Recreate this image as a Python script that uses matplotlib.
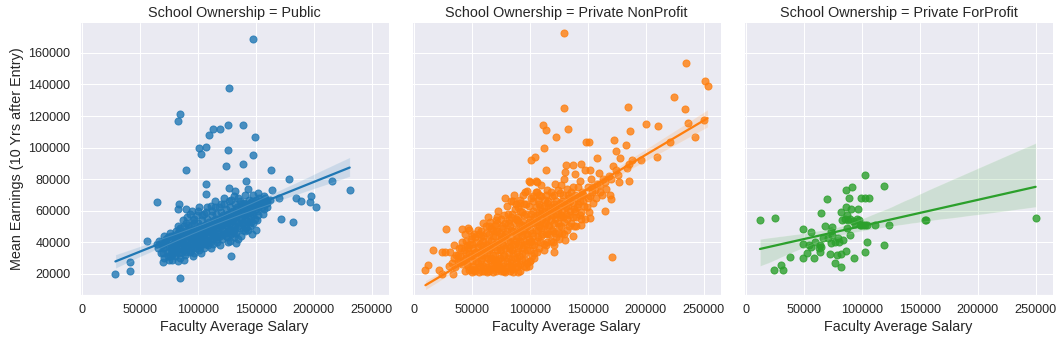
import numpy as np
import pandas as pd
import matplotlib
matplotlib.use("Agg")
import matplotlib.pyplot as plt
import seaborn as sns

## values, in thousands of dollars: (faculty salary, mean earnings)
public_pts = [
    (148, 169), (127, 138), (84.6, 121), (83, 117), (126, 114.5), (139, 114),
    (113, 111.5), (119, 111.5), (110, 108), (149, 107), (101, 100), (107, 100.5),
    (103, 96), (126, 98.5), (148, 95.5), (139, 89.5), (124, 88), (90, 86),
    (163, 86), (179, 80), (216, 79), (231, 73), (142, 79), (107, 77),
    (65, 65.5), (84, 64.5), (83, 61), (185, 68), (189, 66), (197, 65.5),
    (198, 69.5), (202, 62.5), (172, 55), (182, 53), (56, 40.5), (65, 39),
    (29, 20), (42, 27.5), (42, 22), (84.5, 17.5), (129, 31.5), (133, 39.5),
    (107, 70.5), (127, 74.5), (132, 72.5), (164, 73), (170, 68), (160, 65),
    (152, 71), (148, 70), (143, 74), (70, 27.4),
    (68, 33), (69, 38), (67, 41), (71, 30), (70, 36), (72, 40), (71, 44), (74, 34),
    (75, 38), (74, 43), (76, 31), (77, 35), (76, 46), (78, 29), (79, 33), (78, 37),
    (80, 40), (79, 44), (81, 47), (80, 31), (82, 35), (81, 38), (83, 41), (82, 45),
    (84, 48), (83, 50), (85, 30), (84, 33), (86, 37), (85, 40), (87, 43), (86, 46),
    (88, 50), (87, 54), (89, 32), (88, 35), (90, 38), (89, 41), (91, 44), (90, 47),
    (92, 51), (91, 56), (90, 61), (93, 34), (92, 37), (94, 40), (93, 43), (95, 46),
    (94, 50), (96, 54), (95, 60), (97, 33), (96, 36), (98, 39), (97, 42), (99, 45),
    (98, 48), (100, 52), (99, 57), (101, 35), (100, 38), (102, 41), (101, 44), (103, 47),
    (102, 50), (104, 54), (101, 62), (105, 36), (104, 39), (106, 42), (105, 45), (107, 48),
    (106, 51), (108, 55), (107, 59), (109, 38), (108, 41), (110, 44), (109, 47), (111, 50),
    (110, 53), (112, 57), (111, 63), (113, 39), (112, 42), (114, 45), (113, 48), (115, 51),
    (114, 54), (116, 58), (115, 62), (117, 40), (116, 43), (118, 46), (117, 49), (119, 52),
    (118, 55), (120, 59), (121, 42), (120, 45), (122, 48), (121, 51), (123, 54), (122, 57),
    (124, 61), (123, 68), (125, 43), (124, 46), (126, 49), (125, 52), (127, 55), (126, 58),
    (128, 62), (127, 66), (129, 45), (128, 48), (130, 51), (129, 54), (131, 57), (130, 60),
    (132, 64), (131, 69), (133, 46), (132, 50), (134, 53), (133, 56), (135, 59), (134, 62),
    (136, 66), (137, 44), (136, 49), (138, 52), (137, 55), (139, 58), (138, 61), (140, 65),
    (141, 47), (140, 51), (142, 54), (141, 57), (143, 60), (142, 63), (144, 67), (145, 50),
    (144, 53), (146, 56), (145, 59), (147, 62), (148, 52), (149, 55), (148, 58), (150, 61),
    (149, 65), (151, 54), (152, 57), (151, 60), (153, 63), (154, 66), (156, 58), (157, 61),
    (158, 64), (160, 62), (162, 67), (157, 69), (147, 45), (143, 48), (135, 42), (128, 41),
    (119, 38), (111, 36), (103, 33), (96, 31), (88, 29), (83, 28), (120, 64), (115, 66),
    (108, 62), (100, 60), (93, 58), (105, 58), (126, 40), (131, 43), (142, 49), (150, 48),
    (66, 36), (68, 40), (70, 33), (72, 37), (73, 42), (75, 29), (76, 40), (77, 44),
    (78, 32), (79, 39), (80, 43), (81, 34), (82, 39), (83, 44), (84, 36), (85, 46),
    (86, 42), (87, 35), (88, 39), (89, 46), (90, 34), (91, 40), (92, 44), (93, 48),
    (94, 37), (95, 42), (96, 48), (97, 52), (98, 44), (99, 36), (100, 43), (101, 49),
    (102, 46), (103, 39), (104, 44), (105, 50), (106, 47), (107, 39), (108, 45), (109, 51),
    (110, 47), (111, 41), (112, 46), (113, 53), (114, 50), (115, 43), (116, 49), (117, 55),
    (118, 51), (119, 44), (120, 50), (121, 56), (122, 52), (123, 46), (124, 51), (125, 57),
    (126, 53), (127, 47), (128, 52), (129, 59), (130, 55), (131, 48), (132, 54), (133, 61),
    (134, 58), (135, 50), (136, 56), (137, 63), (138, 59), (139, 52), (140, 57), (141, 64),
    (142, 60), (143, 55), (144, 61), (145, 65), (146, 59), (147, 66), (148, 63), (150, 67),
    (152, 62), (153, 68), (155, 62), (156, 66), (158, 68), (160, 66), (146, 53), (139, 48),
    (131, 46), (124, 44), (117, 42), (109, 40), (102, 37), (94, 35), (86, 34), (78, 35),
    (74, 31), (118, 62), (112, 60), (104, 57), (97, 55), (90, 52), (85, 49), (123, 64),
    (129, 67), (135, 68), (141, 70), (152, 65), (138, 64), (96, 40), (103, 42), (110, 48),
    (124, 56), (132, 58),
]

nonprofit_pts = [
    (129.9, 172.6), (235, 153.8), (251.4, 141.9), (253.4, 139.1), (224.1, 132.1),
    (184.8, 125.7), (129.9, 125.1), (233.6, 124.7), (236.2, 115.5), (250, 117.2),
    (200, 114.9), (210.6, 113.6), (111.2, 114.3), (114.4, 111.3), (132.8, 111.9),
    (186.8, 110.4), (122.4, 106.6), (242.2, 106.8), (220.7, 103.6), (148.9, 103.6),
    (151.1, 103.6), (172.4, 104.7), (182.8, 101.7), (112.1, 99.6), (174.7, 98.1),
    (177.6, 93.4), (158, 93.4), (209.8, 93.8), (196.3, 91.9), (188.2, 91.9),
    (104.3, 94), (101.4, 92.3), (185.6, 89.8), (183.9, 87), (131, 88.7),
    (137.4, 88.7), (144.5, 89.8), (114.4, 85.5), (130.5, 84.5), (152.3, 85.5),
    (174.7, 85.5), (175.9, 82.8), (185.6, 78.5), (177.3, 77.9), (169.5, 70),
    (170.1, 67.2), (164.7, 60), (153.7, 74.7), (161, 72.1), (145.4, 70.6),
    (171.3, 30.6), (100.6, 28.1), (27.9, 48.1), (16.4, 34.9), (24.1, 34),
    (10.1, 22.6), (12.4, 25.3), (21.6, 22.1), (24.4, 20), (33.6, 19.8),
    (105.7, 78.5), (99.1, 78.5), (78.4, 67.9), (86.2, 70), (97.7, 72.6), (106.3, 72.1),
    (120.7, 38.1), (120.7, 33.8), (130.2, 41.5), (137.1, 43.8), (144.5, 50.9),
    (151.7, 55.1), (143.7, 57.2), (41.7, 48.1), (46.8, 49.1), (34.5, 38.1),
    (27.3, 34), (31.6, 33.8), (36.8, 31.7), (40.2, 27.4), (47.4, 22.1),
    (50.3, 22.1), (51.7, 22.1),
    (36, 24), (38, 28), (40, 31), (42, 26), (43, 35), (44, 22), (45, 30), (46, 38),
    (47, 25), (48, 33), (49, 42), (50, 28), (50, 21), (51, 36), (52, 45), (52, 23),
    (53, 31), (54, 40), (55, 27), (55, 48), (56, 21), (57, 34), (58, 43), (58, 24),
    (59, 30), (60, 38), (60, 52), (61, 22), (62, 27), (62, 46), (63, 33), (64, 41),
    (64, 56), (65, 23), (66, 29), (66, 36), (67, 49), (68, 44), (68, 21), (69, 26),
    (70, 32), (70, 39), (71, 54), (72, 23), (72, 47), (73, 29), (73, 60), (74, 35),
    (75, 42), (75, 22), (76, 50), (77, 27), (77, 38), (78, 57), (78, 32), (79, 45),
    (80, 24), (80, 63), (81, 30), (81, 52), (82, 36), (83, 41), (83, 22), (84, 48),
    (85, 27), (85, 58), (86, 33), (86, 66), (87, 39), (88, 44), (88, 24), (89, 54),
    (89, 30), (90, 36), (90, 62), (91, 47), (92, 26), (92, 41), (93, 51), (93, 33),
    (94, 70), (95, 38), (95, 57), (96, 29), (96, 45), (97, 64), (98, 35), (98, 50),
    (99, 42), (100, 55), (100, 28), (101, 68), (102, 38), (102, 46), (103, 60), (104, 33),
    (104, 52), (105, 72), (106, 41), (106, 57), (107, 48), (108, 36), (108, 64), (109, 53),
    (110, 44), (110, 76), (111, 60), (112, 39), (112, 50), (113, 67), (114, 55), (115, 45),
    (115, 73), (116, 62), (117, 51), (118, 41), (118, 58), (119, 69), (120, 47), (121, 64),
    (122, 55), (122, 77), (123, 43), (124, 60), (125, 50), (126, 71), (127, 57), (128, 46),
    (128, 66), (130, 53), (130, 80), (131, 62), (132, 48), (133, 70), (134, 57), (135, 66),
    (136, 52), (137, 75), (138, 61), (139, 83), (140, 56), (141, 68), (142, 64), (143, 79),
    (144, 59), (145, 72), (146, 66), (148, 86), (149, 62), (150, 75), (152, 69), (153, 80),
    (155, 65), (156, 73), (158, 77), (160, 84), (162, 70), (165, 78), (168, 82), (172, 88),
    (148, 55), (138, 50), (125, 42), (114, 38), (104, 30), (97, 24), (90, 21), (62, 36),
    (58, 32), (54, 34), (70, 28), (76, 44), (82, 54), (95, 48), (100, 40), (110, 58),
    (115, 65), (60, 44), (65, 50), (72, 56), (67, 30), (74, 24), (86, 21), (79, 21),
    (63, 21), (92, 60), (88, 64), (84, 66), (103, 69), (108, 70), (96, 72), (106, 78),
    (100, 78), (92, 67), (70, 51), (58, 47), (50, 44), (44, 45), (48, 48),
    (38, 32), (41, 36), (43, 29), (45, 41), (46, 26), (47, 36), (49, 31), (50, 39),
    (51, 25), (52, 33), (53, 43), (54, 28), (55, 37), (56, 45), (57, 25), (57, 39),
    (58, 29), (59, 35), (60, 41), (60, 25), (61, 32), (62, 50), (63, 38), (63, 24),
    (64, 30), (65, 45), (65, 35), (66, 53), (67, 25), (67, 41), (68, 32), (68, 48),
    (69, 37), (70, 44), (70, 24), (71, 29), (71, 47), (72, 35), (72, 52), (73, 40),
    (73, 25), (74, 46), (74, 30), (75, 55), (75, 35), (76, 39), (76, 25), (77, 49),
    (77, 31), (78, 43), (78, 22), (79, 36), (79, 52), (80, 28), (80, 47), (81, 41),
    (81, 58), (82, 25), (82, 33), (83, 50), (83, 37), (84, 29), (84, 43), (84, 56),
    (85, 35), (85, 23), (86, 47), (86, 39), (87, 30), (87, 52), (87, 61), (88, 27),
    (88, 41), (88, 55), (89, 34), (89, 48), (90, 43), (90, 25), (90, 56), (91, 31),
    (91, 38), (91, 52), (92, 47), (92, 65), (93, 29), (93, 44), (93, 59), (94, 36),
    (94, 53), (95, 25), (95, 41), (95, 64), (96, 50), (96, 33), (97, 58), (97, 39),
    (98, 45), (98, 27), (99, 53), (99, 63), (100, 35), (100, 48), (101, 41), (101, 58),
    (102, 31), (102, 52), (103, 44), (103, 66), (104, 38), (104, 56), (105, 48), (105, 62),
    (106, 34), (106, 53), (107, 43), (107, 67), (108, 50), (108, 58), (109, 40), (109, 62),
    (110, 49), (110, 69), (111, 55), (111, 45), (112, 63), (112, 35), (113, 52), (113, 59),
    (114, 46), (114, 70), (115, 56), (115, 40), (116, 50), (116, 66), (117, 60), (117, 45),
    (118, 54), (118, 72), (119, 48), (119, 62), (120, 57), (120, 40), (121, 52), (121, 70),
    (122, 46), (122, 62), (123, 58), (123, 66), (124, 52), (124, 73), (125, 62), (125, 46),
    (126, 56), (126, 65), (127, 50), (127, 76), (128, 60), (129, 56), (129, 70), (130, 45),
    (130, 64), (131, 58), (132, 74), (132, 55), (133, 63), (134, 50), (134, 68), (135, 60),
    (136, 72), (137, 56), (137, 65), (139, 60), (139, 70), (140, 50), (141, 62), (142, 75),
    (143, 66), (144, 55), (146, 70), (147, 63), (150, 68), (151, 59), (154, 72), (157, 68),
    (161, 76), (163, 80), (166, 74), (170, 80), (45, 33), (48, 38), (53, 22), (59, 22),
    (65, 22), (71, 22), (77, 22), (84, 25), (92, 22), (99, 25), (42, 40), (39, 36),
    (35, 30), (33, 27), (30, 25),
]

forprofit_pts = [
    (12.3, 53.8), (25.2, 55.1), (24.4, 22.6), (30.4, 25.3), (32.1, 22.6), (38.1, 30.9),
    (49, 48.1), (49, 30.2), (49.6, 39.1), (56.7, 46.4), (54.4, 38.3), (53.3, 33.2),
    (56.7, 37.2), (58.7, 29.8), (60.2, 40.4), (63, 36.6), (63.9, 38.3), (64.8, 58.3),
    (68.2, 50.4), (66.8, 42.6), (69.9, 67.2), (72.5, 32.4), (73.4, 46.8), (74.8, 49.8),
    (73.4, 39.4), (76.8, 27), (79.7, 42.6), (77.4, 40.4), (82.2, 24), (82.5, 32.3),
    (82.5, 59.1), (83.4, 53.8), (84, 41.5), (86.2, 34.7), (86.2, 72.8), (86.8, 62.1),
    (87.7, 48.9), (88.8, 68.1), (88.2, 54), (90.3, 44.7), (91.7, 74.9), (91.1, 61.1),
    (92.6, 53.6), (93.1, 30.2), (96.8, 61.1), (97.7, 53.8), (98.3, 51.1), (99.7, 68.1),
    (102.6, 82.8), (102.6, 68.1), (102.6, 34), (103.2, 51.1), (104.9, 40.4), (106, 68.1),
    (111.2, 50.6), (118.9, 75.5), (118.9, 38.1), (123.2, 50.6), (155, 53.8), (155.6, 53.8),
    (250, 55.1), (85.4, 54.9), (89.7, 54.9), (94, 51.7), (96.3, 54.7), (99.7, 50.6),
    (101.1, 50.6), (104.9, 50.6), (63.9, 34), (65.3, 37.2), (71.3, 42.6), (74.2, 44.7),
    (80.8, 40.4), (78.8, 31.9), (87.7, 57.4),
]

groups = ["Public", "Private NonProfit", "Private ForProfit"]
colors = ["#1f77b4", "#ff7f0e", "#2ca02c"]

rows = []
for name, pts in zip(groups, [public_pts, nonprofit_pts, forprofit_pts]):
    for sal, earn in pts:
        rows.append((sal * 1000, earn * 1000, name))
df = pd.DataFrame(rows, columns=["Faculty Average Salary",
                                 "Mean Earnings (10 Yrs after Entry)",
                                 "School Ownership"])

sns.set_theme(style="darkgrid", font_scale=1.15)
plt.rcParams['font.family'] = ['Liberation Sans', 'DejaVu Sans']
plt.rcParams['text.color'] = '#262626'
plt.rcParams['axes.titlesize'] = 15.8
plt.rcParams['axes.labelsize'] = 14.4

g = sns.lmplot(data=df, x="Faculty Average Salary",
               y="Mean Earnings (10 Yrs after Entry)",
               col="School Ownership", hue="School Ownership",
               col_order=groups, hue_order=groups, palette=colors,
               legend=False, seed=0, height=4.76, aspect=0.9,
               scatter_kws={"s": 50})

fig = g.figure
fig.set_size_inches(1063 / 72, 343 / 72)
fig.subplots_adjust(left=0.0753, right=0.9906, bottom=0.140, top=0.933, wspace=0.074)

for ax in g.axes.flat:
    ax.set_xlim(-1500, 265000)
    ax.set_ylim(6500, 179000)
    ax.set_xticks([0, 50000, 100000, 150000, 200000, 250000])
    ax.set_yticks(np.arange(20000, 170000, 20000))

fig.savefig("out.png", dpi=72)
